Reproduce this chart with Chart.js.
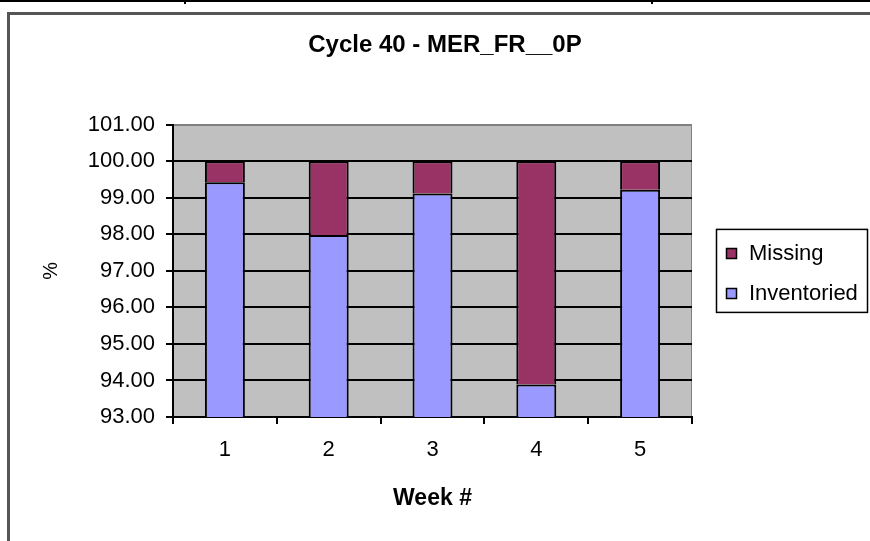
<!DOCTYPE html>
<html>
<head>
<meta charset="utf-8">
<script src="https://cdn.jsdelivr.net/npm/chart.js@4"></script>
<style>
  html, body { margin: 0; padding: 0; background: #fff; overflow: hidden; }
  body { width: 870px; height: 541px; position: relative; }
  #topline { position: absolute; left: 0; top: 0; width: 870px; height: 2px; background: #000; }
  .cut { position: absolute; top: 0; width: 2px; height: 4px; background: #000; }
  #frame { position: absolute; left: 7px; top: 12px; width: 900px; height: 600px;
           border-left: 3px solid #555; border-top: 3px solid #555; }
  #box { position: absolute; left: 10px; top: 15px; width: 870px; height: 526px; }
</style>
</head>
<body>
<div id="topline"></div>
<div class="cut" style="left:184px"></div>
<div class="cut" style="left:651px"></div>
<div id="frame"></div>
<div id="box"><canvas id="chart"></canvas></div>
<script>
// veriler
const weeks = ['1', '2', '3', '4', '5'];
const inventoried = [99.43, 97.98, 99.12, 93.89, 99.22];
const missing = [0.57, 2.02, 0.88, 6.11, 0.78];
const yMin = 93;
const yMax = 101;

const fam = '"Liberation Sans", Arial, sans-serif';

// gri çizim alanı
const plotBg = {
  id: 'plotBg',
  beforeDraw(chart) {
    const { ctx, chartArea: a } = chart;
    ctx.save();
    ctx.fillStyle = '#c0c0c0';
    ctx.fillRect(a.left, a.top, a.width, a.height);
    ctx.strokeStyle = '#808080';
    ctx.lineWidth = 1;
    ctx.strokeRect(a.left + 0.5, a.top + 0.5, a.width - 1, a.height - 1);
    ctx.restore();
  }
};

// çerçeveli lejant
const boxLegend = {
  id: 'boxLegend',
  afterDraw(chart) {
    const { ctx, chartArea: a } = chart;
    const sets = chart.data.datasets.slice().reverse();
    const w = 152, h = 84;
    const left = a.right + 24;
    const top = (a.top + a.bottom) / 2 - h / 2;
    ctx.save();
    ctx.fillStyle = '#fff';
    ctx.fillRect(left, top, w, h);
    ctx.strokeStyle = '#000';
    ctx.lineWidth = 1.5;
    ctx.strokeRect(left + 0.5, top + 0.5, w - 1, h - 1);
    ctx.font = '22px ' + fam;
    ctx.textBaseline = 'middle';
    sets.forEach((ds, i) => {
      const y = Math.round(top + 24 + i * 40);
      ctx.fillStyle = ds.backgroundColor;
      ctx.fillRect(left + 10, y - 5, 11, 11);
      ctx.strokeRect(left + 10.5, y - 4.5, 10, 10);
      ctx.fillStyle = '#000';
      ctx.fillText(ds.label, left + 33, y + 1);
    });
    ctx.restore();
  }
};

const ctx = document.getElementById('chart').getContext('2d');

new Chart(ctx, {
  type: 'bar',
  data: {
    labels: weeks,
    datasets: [
      { label: 'Inventoried', data: inventoried, backgroundColor: '#9999ff',
        borderColor: '#000', borderWidth: 2, borderSkipped: false },
      { label: 'Missing', data: missing, backgroundColor: '#993366',
        borderColor: '#000', borderWidth: 2, borderSkipped: 'start' }
    ]
  },
  options: {
    responsive: true,
    maintainAspectRatio: false,
    animation: false,
    layout: { padding: 0 },
    datasets: { bar: { barPercentage: 0.385, categoryPercentage: 1 } },
    plugins: {
      legend: { display: false },
      tooltip: { enabled: false },
      title: {
        display: true,
        text: 'Cycle 40 - MER_FR__0P',
        color: '#000',
        font: { family: fam, size: 24, weight: 'bold' },
        padding: { top: 16, bottom: 65 }
      }
    },
    scales: {
      x: {
        stacked: true,
        offset: true,
        grid: { offset: true, drawOnChartArea: false, drawTicks: true, tickLength: 7, color: '#000', lineWidth: 2 },
        border: { color: '#000', width: 2 },
        ticks: { color: '#000', font: { family: fam, size: 22 }, padding: 13, maxRotation: 0 },
        title: {
          display: true, text: 'Week #', color: '#000',
          font: { family: fam, size: 23, weight: 'bold' },
          padding: { top: 0, bottom: 29 }
        },
        afterFit(s) { s.height = 124; }
      },
      y: {
        stacked: true,
        min: yMin,
        max: yMax,
        ticks: {
          stepSize: 1, color: '#000', padding: 11,
          font: { family: fam, size: 22 },
          callback: v => v.toFixed(2)
        },
        grid: {
          color: c => (c.tick && c.tick.value === yMax) ? '#808080' : '#000',
          tickColor: '#000',
          tickLength: 7,
          lineWidth: 2
        },
        border: { color: '#000', width: 2 },
        title: {
          display: true, text: '%', color: '#000',
          font: { family: fam, size: 20 },
          padding: { top: 29, bottom: 0 }
        },
        afterFit(s) { s.width = 163; }
      },
      pad: {
        type: 'linear',
        position: 'right',
        display: true,
        grid: { display: false },
        border: { display: false },
        ticks: { display: false },
        afterFit(s) { s.width = 188; }
      }
    }
  },
  plugins: [plotBg, boxLegend]
});
</script>
</body>
</html>
